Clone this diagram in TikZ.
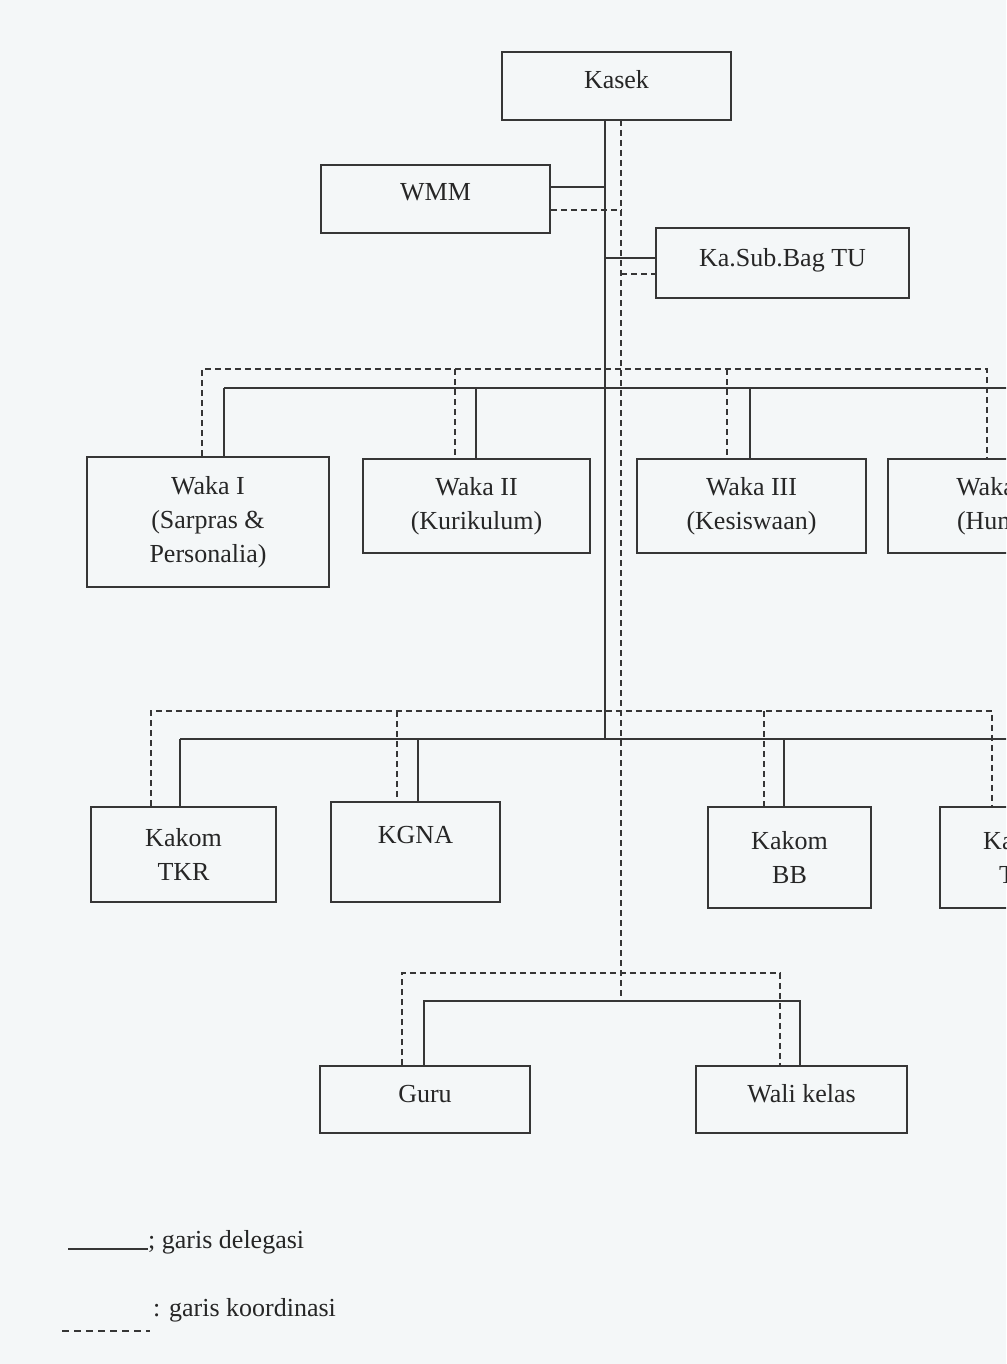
\documentclass[tikz,border=0pt]{standalone}
\usepackage{fontspec}
\setmainfont{Liberation Serif}
\definecolor{bgc}{HTML}{F4F7F8}
\definecolor{linec}{HTML}{363636}
\definecolor{txtc}{HTML}{262626}
\begin{document}
\begin{tikzpicture}[x=1pt,y=-1pt,
  orgbox/.style={draw=linec, line width=1.7pt, align=center, inner sep=0pt,
    text=txtc, font=\fontsize{26}{34}\selectfont},
  deleg/.style={draw=linec, line width=1.8pt},
  koord/.style={draw=linec, line width=1.6pt, dash pattern=on 6pt off 4pt},
  legtext/.style={text=txtc, font=\fontsize{26}{32}\selectfont, inner sep=0pt, anchor=west}
]
\fill[bgc] (0,0) rectangle (1006,1364);
\clip (0,0) rectangle (1006,1364);

% boxes
\node[orgbox, minimum width=229pt, minimum height=68pt, text height=18pt, text depth=12pt] (kasek) at (616.5,86) {Kasek};
\node[orgbox, minimum width=229pt, minimum height=68pt, text height=18pt, text depth=14pt] (wmm) at (435.5,199) {WMM};
\node[orgbox, minimum width=253pt, minimum height=70pt, text height=18pt, text depth=12pt] (tu) at (782.5,263) {Ka.Sub.Bag TU};

\node[orgbox, minimum width=242pt, minimum height=130pt] (w1) at (208,522) {Waka I\\(Sarpras \&\\Personalia)};
\node[orgbox, minimum width=227pt, minimum height=94pt] (w2) at (476.5,506) {Waka II\\(Kurikulum)};
\node[orgbox, minimum width=229pt, minimum height=94pt] (w3) at (751.5,506) {Waka III\\(Kesiswaan)};
\node[orgbox, minimum width=229pt, minimum height=94pt] (w4) at (1002.5,506) {Waka IV\\(Humas)};

\node[orgbox, minimum width=185pt, minimum height=95pt] (tkr) at (183.5,854.5) {Kakom\\TKR};
\node[orgbox, minimum width=169pt, minimum height=100pt] (kgna) at (415.5,852) {KGNA\\\mbox{}};
\node[orgbox, minimum width=163pt, minimum height=101pt] (bb) at (789.5,857.5) {Kakom\\BB};
\node[orgbox, minimum width=163pt, minimum height=101pt] (tkj) at (1021.5,857.5) {Kakom\\TKJ};

\node[orgbox, minimum width=210pt, minimum height=67pt, text height=18pt, text depth=12pt] (guru) at (425,1099.5) {Guru};
\node[orgbox, minimum width=211pt, minimum height=67pt, text height=18pt, text depth=12pt] (wali) at (801.5,1099.5) {Wali kelas};

% trunk coordinates
\coordinate (sT) at (605,120);
\coordinate (sK) at (605,739);
\coordinate (dT) at (621,120);
\coordinate (dG) at (621,1001);

% delegation (solid)
\draw[deleg] (sT) -- (sK);
\draw[deleg] (wmm.east |- 0,187) -- (sT |- 0,187);
\draw[deleg] (sT |- 0,258) -- (tu.west |- 0,258);

\coordinate (wbS) at (224,388);
\draw[deleg] (wbS) -- (1100,388);
\draw[deleg] (wbS) -- (w1.north -| wbS);
\draw[deleg] (476,388) -- (w2.north -| 476,0);
\draw[deleg] (750,388) -- (w3.north -| 750,0);
\draw[deleg] (1024,388) -- (w4.north -| 1024,0);

\coordinate (kbS) at (180,739);
\draw[deleg] (kbS) -- (1100,739);
\draw[deleg] (kbS) -- (tkr.north -| kbS);
\draw[deleg] (418,739) -- (kgna.north -| 418,0);
\draw[deleg] (784,739) -- (bb.north -| 784,0);
\draw[deleg] (1040,739) -- (tkj.north -| 1040,0);

\coordinate (gbS) at (424,1001);
\coordinate (gbE) at (800,1001);
\draw[deleg] (guru.north -| gbS) -- (gbS) -- (gbE) -- (wali.north -| gbE);

% coordination (dashed)
\draw[koord] (dT) -- (dG);
\draw[koord] (wmm.east |- 0,210) -- (dT |- 0,210);
\draw[koord] (dT |- 0,274) -- (tu.west |- 0,274);

\draw[koord] (w1.north -| 202,0) -- (202,369) -- (987,369) -- (w4.north -| 987,0);
\draw[koord] (455,369) -- (w2.north -| 455,0);
\draw[koord] (727,369) -- (w3.north -| 727,0);

\draw[koord] (tkr.north -| 151,0) -- (151,711) -- (992,711) -- (tkj.north -| 992,0);
\draw[koord] (397,711) -- (kgna.north -| 397,0);
\draw[koord] (764,711) -- (bb.north -| 764,0);

\draw[koord] (guru.north -| 402,0) -- (402,973) -- (780,973) -- (wali.north -| 780,0);

% legend
\coordinate (l1a) at (68,1249);
\coordinate (l1b) at (148,1249);
\draw[deleg] (l1a) -- (l1b);
\node[legtext] (lt1) at (148,1242) {; garis delegasi};
\coordinate (l2a) at (62,1331);
\coordinate (l2b) at (150,1331);
\draw[koord, line width=1.4pt, dash pattern=on 7pt off 5pt] (l2a) -- (l2b);
\node[legtext] (lt2) at (153,1310) {: garis koordinasi};
\end{tikzpicture}
\end{document}
